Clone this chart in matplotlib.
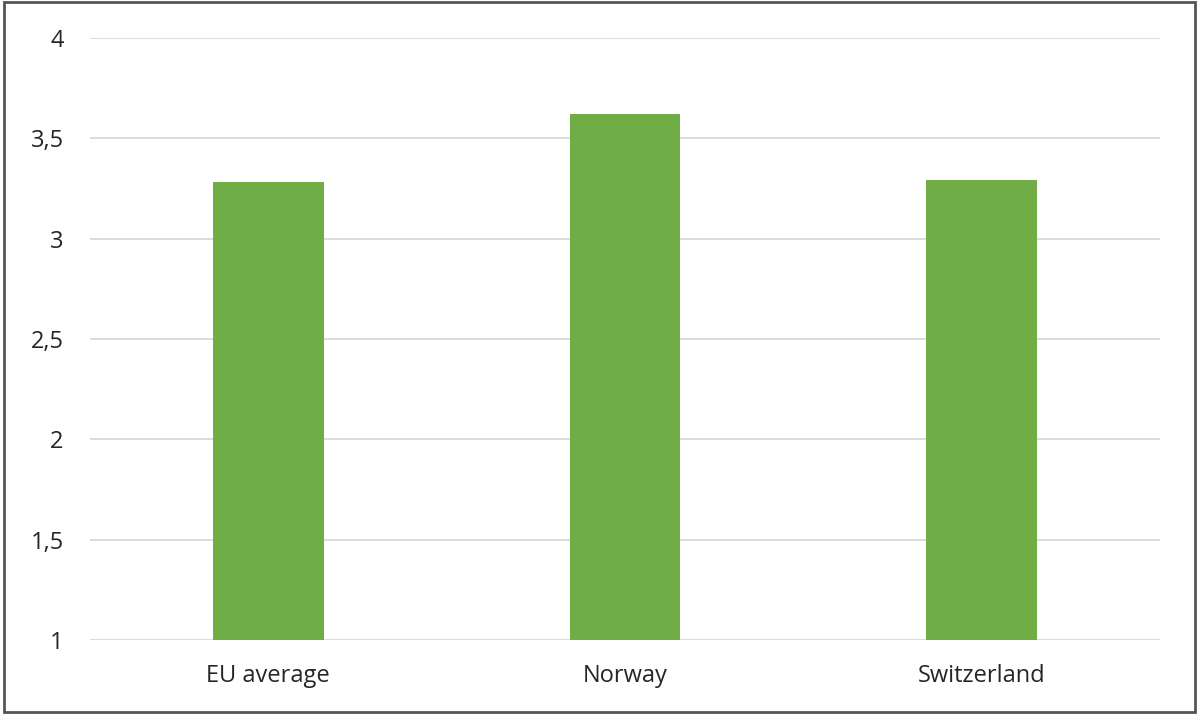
import matplotlib.pyplot as plt
from matplotlib.patches import Rectangle
from matplotlib.ticker import FuncFormatter

categories = ["EU average", "Norway", "Switzerland"]
values = [3.28, 3.62, 3.29]
y_ticks = [1, 1.5, 2, 2.5, 3, 3.5, 4]

plt.rcParams['font.family'] = ['Open Sans', 'DejaVu Sans']

fig = plt.figure(figsize=(11.99, 7.18), dpi=100)
ax = fig.add_axes([90 / 1199, 78 / 718, 1070 / 1199, 602 / 718])

ax.bar(range(len(categories)), [v - 1 for v in values], bottom=1,
       width=0.31, color='#70AD47', zorder=3)

ax.set_xlim(-0.5, len(categories) - 0.5)
ax.set_ylim(1, 4)
ax.set_yticks(y_ticks)
ax.yaxis.set_major_formatter(FuncFormatter(lambda v, p: f"{v:g}".replace('.', ',')))
ax.set_xticks(range(len(categories)))
ax.set_xticklabels(categories)

ax.grid(axis='y', color='#d9d9d9', linewidth=1.3, zorder=0)
for s in ax.spines.values():
    s.set_visible(False)
ax.tick_params(axis='both', length=0, labelsize=17, colors='#262626')
ax.tick_params(axis='y', pad=19)
ax.tick_params(axis='x', pad=17)

# outer frame
fig.patches.append(Rectangle((4 / 1199, 6 / 718), 1191 / 1199, 710 / 718,
                             transform=fig.transFigure, fill=False,
                             edgecolor='#555555', linewidth=2))

fig.savefig("out.png", dpi=100)
